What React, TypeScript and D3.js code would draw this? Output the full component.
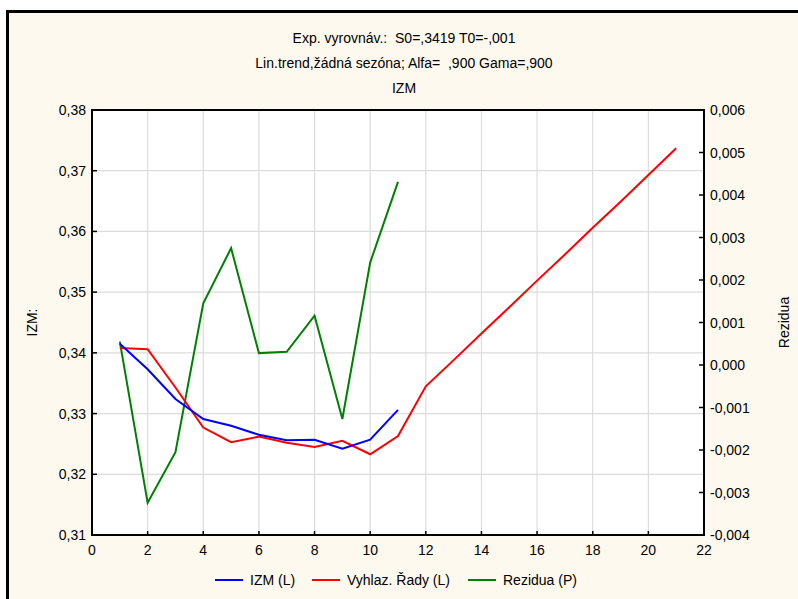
import React from "react";
import * as d3 from "d3";

const periods = [1, 2, 3, 4, 5, 6, 7, 8, 9, 10, 11, 12, 13, 14, 15, 16, 17, 18, 19, 20, 21];
const izm = [0.3415, 0.3373, 0.3324, 0.3291, 0.328, 0.3265, 0.3256, 0.3257, 0.3242, 0.3257, 0.3306];
const smoothed = [
  0.3408, 0.3406, 0.3343, 0.3277, 0.3253, 0.3262, 0.3252, 0.3245, 0.3255, 0.3233, 0.3263,
  0.3345, 0.3388, 0.3432, 0.3475, 0.3519, 0.3562, 0.3606, 0.3649, 0.3693, 0.3737,
];
const residuals = [0.00055, -0.00324, -0.00205, 0.00145, 0.00275, 0.00028, 0.00031, 0.00116, -0.00127, 0.00241, 0.00431];

const xTicks = [0, 2, 4, 6, 8, 10, 12, 14, 16, 18, 20, 22];
const yLeftTicks = [0.31, 0.32, 0.33, 0.34, 0.35, 0.36, 0.37, 0.38];
const yRightTicks = [-0.004, -0.003, -0.002, -0.001, 0, 0.001, 0.002, 0.003, 0.004, 0.005, 0.006];

const titleLines = [
  "Exp. vyrovnáv.:  S0=,3419 T0=-,001",
  "Lin.trend,žádná sezóna; Alfa=  ,900 Gama=,900",
  "IZM",
];
const legendItems = [
  { label: "IZM (L)", color: "#0000ff" },
  { label: "Vyhlaz. Řady (L)", color: "#ff0000" },
  { label: "Rezidua (P)", color: "#008000" },
];

const W = 798;
const H = 599;
const L = 92, R = 704, T = 110, B = 535;
const FONT = "'Liberation Sans', Arial, sans-serif";
const FS = 14;

export default function App() {
  const x = d3.scaleLinear().domain([0, 22]).range([L, R]);
  const yL = d3.scaleLinear().domain([0.31, 0.38]).range([B, T]);
  const yR = d3.scaleLinear().domain([-0.004, 0.006]).range([B, T]);

  const fmt2 = (v: number) => d3.format(".2f")(v).replace(".", ",");
  const fmt3 = (v: number) => d3.format(".3f")(v).replace("−", "-").replace(".", ",");

  const lineL = d3.line<[number, number]>().x((d) => x(d[0])).y((d) => yL(d[1]));
  const lineR = d3.line<[number, number]>().x((d) => x(d[0])).y((d) => yR(d[1]));

  const izmPts = izm.map((v, i) => [periods[i], v] as [number, number]);
  const smPts = smoothed.map((v, i) => [periods[i], v] as [number, number]);
  const resPts = residuals.map((v, i) => [periods[i], v] as [number, number]);

  const legendX = [215, 312, 468];

  return (
    <svg
      width={W}
      height={H}
      style={{ position: "absolute", left: 0, top: 0, display: "block" }}
      fontFamily={FONT}
    >
      <rect x={0} y={0} width={W} height={H} fill="#ffffff" />
      <rect x={7.5} y={11.5} width={W + 20} height={H + 20} fill="#fef9ee" stroke="#000" strokeWidth={3} />

      {titleLines.map((t, i) => (
        <text key={i} x={404} y={43 + i * 25} textAnchor="middle" fontSize={FS} fill="#000" style={{ whiteSpace: "pre" }}>
          {t}
        </text>
      ))}

      <rect x={L} y={T} width={R - L} height={B - T} fill="#ffffff" />

      {yLeftTicks.map((v) => (
        <line key={"gy" + v} x1={L} x2={R} y1={yL(v)} y2={yL(v)} stroke="#dcdcdc" strokeWidth={1.2} />
      ))}
      {xTicks.map((v) => (
        <line key={"gx" + v} x1={x(v)} x2={x(v)} y1={T} y2={B} stroke="#dcdcdc" strokeWidth={1.2} />
      ))}

      <rect x={L} y={T} width={R - L} height={B - T} fill="none" stroke="#000" strokeWidth={2} />

      {xTicks.map((v) => (
        <g key={"xt" + v}>
          <line x1={x(v)} x2={x(v)} y1={B} y2={B - 4} stroke="#000" strokeWidth={1.5} />
          <text x={x(v)} y={555} textAnchor="middle" fontSize={FS}>
            {String(v)}
          </text>
        </g>
      ))}
      {yLeftTicks.map((v) => (
        <g key={"yl" + v}>
          <line x1={L} x2={L + 5} y1={yL(v)} y2={yL(v)} stroke="#000" strokeWidth={1.5} />
          <text x={86} y={yL(v) + 5} textAnchor="end" fontSize={FS}>
            {fmt2(v)}
          </text>
        </g>
      ))}
      {yRightTicks.map((v) => (
        <g key={"yr" + v}>
          <line x1={R} x2={R - 5} y1={yR(v)} y2={yR(v)} stroke="#000" strokeWidth={1.5} />
          <text x={710} y={yR(v) + 5} textAnchor="start" fontSize={FS}>
            {fmt3(v)}
          </text>
        </g>
      ))}

      <text transform={`translate(37,${(T + B) / 2}) rotate(-90)`} textAnchor="middle" fontSize={FS}>
        IZM:
      </text>
      <text transform={`translate(789,${(T + B) / 2}) rotate(-90)`} textAnchor="middle" fontSize={FS}>
        Rezidua
      </text>

      <path d={lineR(resPts) || ""} fill="none" stroke="#008000" strokeWidth={2} />
      <path d={lineL(smPts) || ""} fill="none" stroke="#ff0000" strokeWidth={2} />
      <path d={lineL(izmPts) || ""} fill="none" stroke="#0000ff" strokeWidth={2} />

      {legendItems.map((it, i) => (
        <g key={it.label}>
          <line x1={legendX[i]} x2={legendX[i] + 28} y1={580} y2={580} stroke={it.color} strokeWidth={2} />
          <text x={legendX[i] + 35} y={585} fontSize={FS}>
            {it.label}
          </text>
        </g>
      ))}
    </svg>
  );
}
